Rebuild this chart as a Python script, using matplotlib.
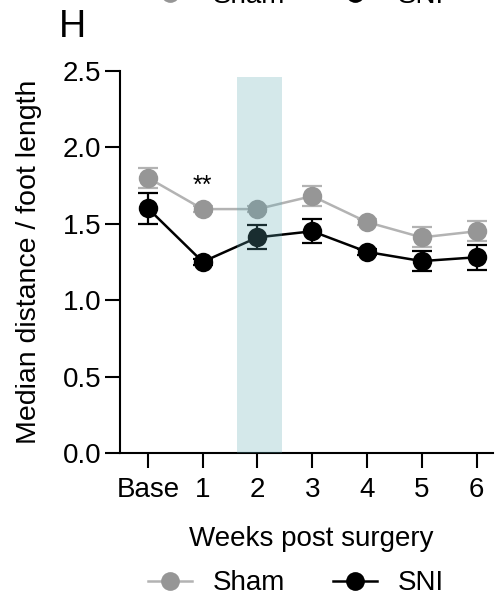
import numpy as np
import matplotlib
matplotlib.use("Agg")
import matplotlib.pyplot as plt
from matplotlib.lines import Line2D

plt.rcParams["font.family"] = ["Liberation Sans", "DejaVu Sans"]
plt.rcParams["font.size"] = 20

weeks = ["Base", "1", "2", "3", "4", "5", "6"]
sham_mean = [1.80, 1.595, 1.595, 1.68, 1.51, 1.41, 1.45]
sham_sem = [0.065, 0.02, 0.02, 0.065, 0.02, 0.065, 0.065]
sni_mean = [1.60, 1.25, 1.41, 1.45, 1.315, 1.255, 1.28]
sni_sem = [0.10, 0.02, 0.078, 0.078, 0.02, 0.068, 0.083]

# week 2 highlight
band_x = [1.62, 2.45]
band_top = 2.46

SHAM_MARK = "#969696"
SHAM_LINE = "#b3b3b3"
SNI_COL = "#000000"

fig = plt.figure(figsize=(4.96, 5.96), dpi=100)
ax = fig.add_axes([0.2419, 0.2399, 0.752, 0.6415])

x = np.arange(len(weeks))

ax.errorbar(x, sni_mean, yerr=sni_sem, color=SNI_COL, lw=1.8, marker="o",
            ms=14, mec="none", ecolor=SNI_COL, elinewidth=1.6, capsize=7.5,
            capthick=1.6, zorder=3)
ax.errorbar(x, sham_mean, yerr=sham_sem, color=SHAM_LINE, lw=1.8, marker="o",
            ms=14, mfc=SHAM_MARK, mec="none", ecolor=SHAM_LINE, elinewidth=1.6,
            capsize=7.5, capthick=1.6, zorder=4)

ax.fill_between(band_x, 0, band_top, color="#60aab4", alpha=0.27, lw=0, zorder=5)

ax.text(1, 1.75, "**", ha="center", va="center", fontsize=18)

ax.set_xlim(-0.51, 6.3)
ax.set_ylim(0, 2.5)
ax.set_xticks(x)
ax.set_xticklabels(weeks)
ax.set_yticks([0, 0.5, 1.0, 1.5, 2.0, 2.5])
ax.set_yticklabels(["0.0", "0.5", "1.0", "1.5", "2.0", "2.5"])
for side in ["top", "right"]:
    ax.spines[side].set_visible(False)
for side in ["left", "bottom"]:
    ax.spines[side].set_linewidth(1.5)
ax.tick_params(direction="out", length=10.5, width=1.5)
ax.tick_params(axis="x", pad=7)
ax.tick_params(axis="y", pad=3)

ax.set_xlabel("Weeks post surgery")
ax.xaxis.set_label_coords(0.513, -0.19)
ax.set_ylabel("Median distance / foot length", fontsize=20.5)
ax.yaxis.set_label_coords(-0.21, 0.5)

fig.text(0.119, 0.938, "H", fontsize=27, ha="left", va="baseline")

handles = [
    Line2D([], [], color=SHAM_LINE, lw=1.8, marker="o", ms=13.5, mfc=SHAM_MARK, mec="none"),
    Line2D([], [], color=SNI_COL, lw=1.8, marker="o", ms=13.5, mec="none"),
]
names = ["Sham", "SNI"]
for ypos in [0.021, 1.0067]:
    fig.legend(handles, names, loc="center", bbox_to_anchor=(0.596, ypos), ncol=2,
               frameon=False, handlelength=1.58, handletextpad=0.75,
               columnspacing=1.73, borderpad=0, borderaxespad=0)

fig.savefig("out.png", dpi=100)
